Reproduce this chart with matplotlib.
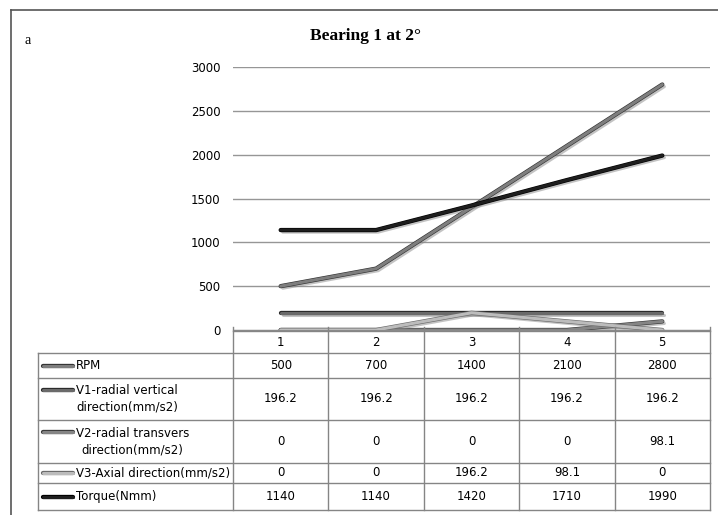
import matplotlib
matplotlib.use("Agg")
import matplotlib.pyplot as plt
import matplotlib.patheffects as pe
from matplotlib.lines import Line2D

# Dados
categorias = ["1", "2", "3", "4", "5"]
series_nomes = [
    "RPM",
    "V1-radial vertical\ndirection(mm/s2)",
    "V2-radial transvers\ndirection(mm/s2)",
    "V3-Axial direction(mm/s2)",
    "Torque(Nmm)",
]
rpm = [500, 700, 1400, 2100, 2800]
v1 = [196.2, 196.2, 196.2, 196.2, 196.2]
v2 = [0, 0, 0, 0, 98.1]
v3 = [0, 0, 196.2, 98.1, 0]
torque = [1140, 1140, 1420, 1710, 1990]
series_valores = [rpm, v1, v2, v3, torque]

cores = ["#7e7e7e", "#6a6a6a", "#858585", "#bcbcbc", "#1e1e1e"]
bordas = ["#333333", "#2a2a2a", "#3a3a3a", "#6a6a6a", "#000000"]

W, H = 718, 515
fig = plt.figure(figsize=(W / 100, H / 100), dpi=100)
fonte = ["Liberation Sans Narrow", "DejaVu Sans"]


def fx(x):
    return x / W


def fy(y):
    return 1 - y / H


# Área do gráfico (pixels medidos na referência)
x0, x1 = 233, 710
ytop, ybot = 67, 330
ax = fig.add_axes([fx(x0), fy(ybot), fx(x1) - fx(x0), fy(ytop) - fy(ybot)])

xs = list(range(len(categorias)))
for i, vals in enumerate(series_valores):
    ax.plot(
        xs, vals, color=cores[i], lw=2.2, solid_capstyle="round", zorder=3 + i * 0.1,
        path_effects=[
            pe.SimpleLineShadow(offset=(1.5, -1.5), shadow_color="#888888", alpha=0.5),
            pe.Stroke(linewidth=3.1, foreground=bordas[i]),
            pe.Normal(),
        ],
    )

ax.set_xlim(-0.5, len(categorias) - 0.5)
ax.set_ylim(0, 3000)
ax.set_yticks(range(0, 3001, 500))
ax.set_xticks([])
ax.grid(axis="y", color="#969696", lw=1)
ax.set_axisbelow(True)
for s in ["top", "right", "left"]:
    ax.spines[s].set_visible(False)
ax.spines["bottom"].set_color("#8a8a8a")
ax.tick_params(axis="y", length=0, pad=9, labelsize=8.5)
for t in ax.get_yticklabels():
    t.set_family(fonte)

# Título e letra do painel
fig.text(fx(365), fy(36), "Bearing 1 at 2°", ha="center", va="center",
         family="Liberation Serif", fontweight="bold", fontsize=12.5)
fig.text(fx(28), fy(40), "a", ha="center", va="center",
         family="Liberation Serif", fontsize=10)

# Moldura externa
moldura = dict(color="#555555", lw=1.2, transform=fig.transFigure)
fig.add_artist(Line2D([fx(11), fx(11)], [fy(10), fy(515)], **moldura))
fig.add_artist(Line2D([fx(11), fx(718)], [fy(10), fy(10)], **moldura))

# Tabela de dados
lab_x0 = 38
col_edges = [x0 + (x1 - x0) * k / len(categorias) for k in range(len(categorias) + 1)]
row_edges = [331, 353, 378, 420, 463, 483, 510]
tab = dict(color="#858585", lw=1, transform=fig.transFigure)

# linhas horizontais
fig.add_artist(Line2D([fx(x0), fx(x1)], [fy(row_edges[0])] * 2, **tab))
for y in row_edges[1:]:
    fig.add_artist(Line2D([fx(lab_x0), fx(x1)], [fy(y)] * 2, **tab))
# linhas verticais
fig.add_artist(Line2D([fx(lab_x0)] * 2, [fy(row_edges[1]), fy(row_edges[-1])], **tab))
for x in col_edges:
    fig.add_artist(Line2D([fx(x)] * 2, [fy(row_edges[0] - 4), fy(row_edges[-1])], **tab))

# cabeçalho com as categorias
for k, c in enumerate(categorias):
    cx = (col_edges[k] + col_edges[k + 1]) / 2
    fig.text(fx(cx), fy((row_edges[0] + row_edges[1]) / 2), c, ha="center", va="center",
             family=fonte, fontsize=8.5)

for i, (nome, vals) in enumerate(zip(series_nomes, series_valores)):
    ya, yb = row_edges[i + 1], row_edges[i + 2]
    ymid = (ya + yb) / 2
    duas = "\n" in nome
    ykey = ymid - 9.5 if duas else ymid
    fig.add_artist(Line2D([fx(43), fx(73)], [fy(ykey)] * 2, color=cores[i], lw=2.2,
                          solid_capstyle="round", transform=fig.transFigure,
                          path_effects=[pe.Stroke(linewidth=3.1, foreground=bordas[i]),
                                        pe.Normal()]))
    fig.text(fx(76), fy(ymid), nome, ha="left", va="center", multialignment="center",
             family=fonte, fontsize=8.5, linespacing=1.35)
    for k, v in enumerate(vals):
        cx = (col_edges[k] + col_edges[k + 1]) / 2
        fig.text(fx(cx), fy(ymid), f"{v:g}", ha="center", va="center",
                 family=fonte, fontsize=8.5)

fig.savefig("out.png", dpi=100)
